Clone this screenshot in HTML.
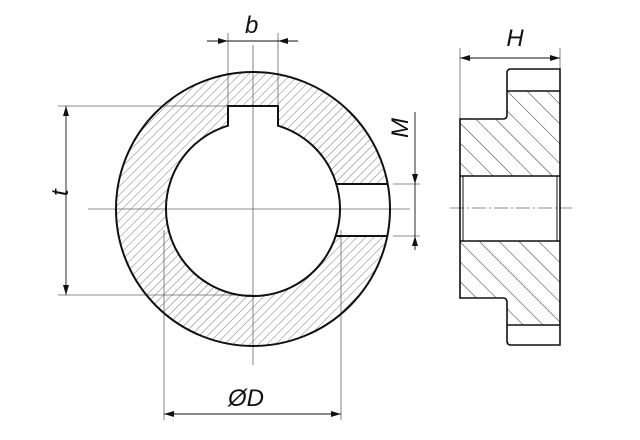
<!DOCTYPE html>
<html><head><meta charset="utf-8"><style>html,body{margin:0;padding:0;background:#fff}svg{display:block}</style></head>
<body>
<svg width="640" height="440" viewBox="0 0 640 440" xmlns="http://www.w3.org/2000/svg">
<defs>
<pattern id="h1" patternUnits="userSpaceOnUse" width="6" height="6" patternTransform="rotate(45)">
<line x1="0" y1="0" x2="0" y2="6" stroke="#555" stroke-width="0.8"/></pattern>
<pattern id="h2" patternUnits="userSpaceOnUse" width="14" height="14" patternTransform="rotate(-45)">
<line x1="0" y1="0" x2="0" y2="14" stroke="#333" stroke-width="1"/></pattern>
<marker id="a" viewBox="0 0 10 6" refX="10" refY="3" markerWidth="10" markerHeight="6" orient="auto" markerUnits="userSpaceOnUse">
<path d="M0,0 L10,3 L0,6 Z" fill="#111"/></marker>
</defs>
<!-- front view -->
<circle cx="253" cy="209" r="137" fill="url(#h1)"/>
<path d="M228,125.7 L228,106 L278,106 L278,125.7 A87 87 0 1 1 228,125.7 Z" fill="#fff"/>
<rect x="332" y="184" width="60" height="52" fill="#fff"/>
<g fill="none" stroke="#666" stroke-width="0.8">
<line x1="253" y1="45" x2="253" y2="365"/>
<line x1="88" y1="209" x2="410" y2="209"/>
<line x1="228" y1="33" x2="228" y2="106"/>
<line x1="278" y1="33" x2="278" y2="106"/>
<line x1="58" y1="106" x2="228" y2="106"/>
<line x1="58" y1="295" x2="253" y2="295"/>
<line x1="164" y1="230" x2="164" y2="420"/>
<line x1="341" y1="230" x2="341" y2="420"/>
<line x1="393" y1="184" x2="420" y2="184"/>
<line x1="393" y1="236" x2="420" y2="236"/>
</g>
<g fill="none" stroke="#111" stroke-width="2">
<circle cx="253" cy="209" r="137"/>
<path d="M228,125.7 L228,106 L278,106 L278,125.7 A87 87 0 1 1 228,125.7 Z"/>
<line x1="336" y1="184" x2="388" y2="184"/>
<line x1="336" y1="236" x2="387" y2="236"/>
</g>
<g stroke="#111" stroke-width="0.9" fill="none">
<line x1="207" y1="41" x2="228" y2="41" marker-end="url(#a)"/>
<line x1="298" y1="41" x2="278" y2="41" marker-end="url(#a)"/>
<line x1="228" y1="41" x2="278" y2="41"/>
<line x1="66" y1="200" x2="66" y2="106" marker-end="url(#a)"/>
<line x1="66" y1="200" x2="66" y2="295" marker-end="url(#a)"/>
<line x1="252" y1="414" x2="164" y2="414" marker-end="url(#a)"/>
<line x1="252" y1="414" x2="341" y2="414" marker-end="url(#a)"/>
<line x1="415" y1="112" x2="415" y2="184" marker-end="url(#a)"/>
<line x1="415" y1="250" x2="415" y2="236" marker-end="url(#a)"/>
<line x1="415" y1="184" x2="415" y2="236"/>
</g>
<g font-family="Liberation Sans, sans-serif" font-style="italic" font-size="24" fill="#111">
<text x="245" y="33">b</text>
<text x="515" y="46" text-anchor="middle">H</text>
<text x="228" y="406">ØD</text>
<text transform="translate(408,138) rotate(-90)">M</text>
<text transform="translate(68,196) rotate(-90)">t</text>
</g>
<!-- side view -->
<path d="M507,91 L560,91 L560,176 L460,176 L460,119 L507,119 Z" fill="url(#h2)"/>
<path d="M460,241 L560,241 L560,325 L507,325 L507,298 L460,298 Z" fill="url(#h2)"/>
<g fill="none" stroke="#666" stroke-width="0.8">
<line x1="460" y1="48" x2="460" y2="119"/>
<line x1="560" y1="48" x2="560" y2="69"/>
<line x1="450" y1="208" x2="572" y2="208" stroke-dasharray="14,3,2,3"/>
</g>
<g stroke="#111" stroke-width="0.9" fill="none">
<line x1="510" y1="58" x2="460" y2="58" marker-end="url(#a)"/>
<line x1="510" y1="58" x2="560" y2="58" marker-end="url(#a)"/>
</g>
<g fill="none" stroke="#111" stroke-width="1.6">
<path d="M460,119 L503,119 Q507,119 507,115 L507,73 Q507,69 511,69 L560,69 L560,345 L511,345 Q507,345 507,341 L507,302 Q507,298 503,298 L460,298 Z"/>
<line x1="507" y1="91" x2="560" y2="91"/>
<line x1="507" y1="325" x2="560" y2="325"/>
<line x1="460" y1="176" x2="560" y2="176"/>
<line x1="460" y1="241" x2="560" y2="241"/>
<line x1="463" y1="176" x2="463" y2="241" stroke-width="1"/>
<line x1="557" y1="176" x2="557" y2="241" stroke-width="1"/>
</g>
</svg>
</body></html>
